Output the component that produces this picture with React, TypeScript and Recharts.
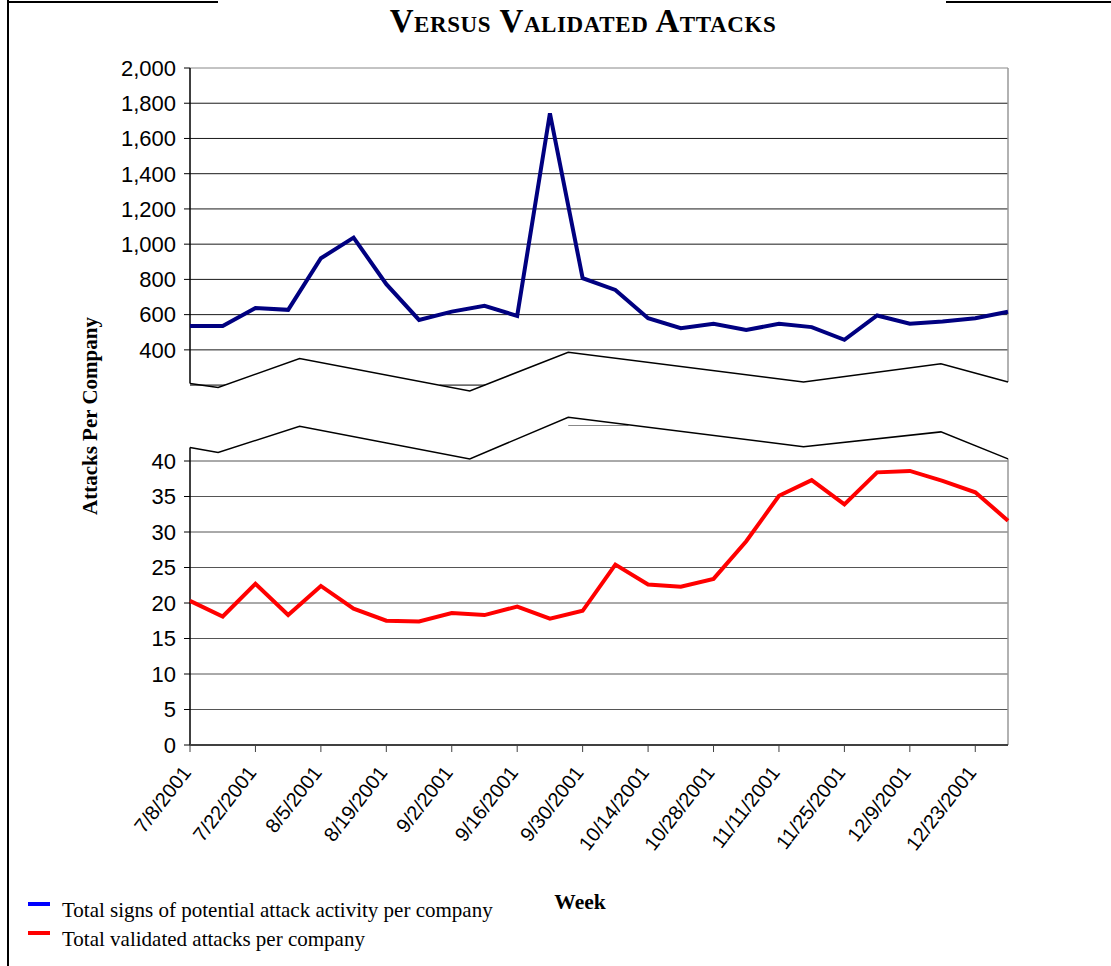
import React from 'react';
import { LineChart, Line, XAxis, YAxis, ReferenceLine } from 'recharts';

const categories = [
  '7/8/2001', '7/15/2001', '7/22/2001', '7/29/2001', '8/5/2001', '8/12/2001', '8/19/2001',
  '8/26/2001', '9/2/2001', '9/9/2001', '9/16/2001', '9/23/2001', '9/30/2001', '10/7/2001',
  '10/14/2001', '10/21/2001', '10/28/2001', '11/4/2001', '11/11/2001', '11/18/2001',
  '11/25/2001', '12/2/2001', '12/9/2001', '12/16/2001', '12/23/2001', '12/30/2001',
];
const signsPerCompany = [
  535, 535, 637, 627, 920, 1037, 773, 570, 617, 650, 593, 1743, 807, 740, 580, 523, 548, 513,
  548, 529, 457, 595, 548, 561, 580, 616,
];
const validatedPerCompany = [
  20.3, 18.1, 22.7, 18.3, 22.4, 19.2, 17.5, 17.4, 18.6, 18.3, 19.5, 17.8, 18.9, 25.4, 22.6,
  22.3, 23.4, 28.7, 35.1, 37.3, 33.9, 38.4, 38.6, 37.2, 35.6, 31.6,
];
const upperTicks = [400, 600, 800, 1000, 1200, 1400, 1600, 1800, 2000];
const lowerTicks = [0, 5, 10, 15, 20, 25, 30, 35, 40];
const xTicks = [0, 2, 4, 6, 8, 10, 12, 14, 16, 18, 20, 22, 24];
// axis-break zigzag (decoration), in week index / axis units
const breakX = [0, 0.86, 3.35, 8.55, 11.56, 18.75, 22.95, 25];
const breakUpper = [209, 186, 351, 167, 386, 218, 321, 218];
const breakLower = [41.9, 41.2, 44.9, 40.3, 46.15, 42.0, 44.1, 40.3];

const upperData = categories.map((c, i) => ({ x: i, label: c, signs: signsPerCompany[i] }));
const lowerData = categories.map((c, i) => ({ x: i, label: c, validated: validatedPerCompany[i] }));
const upperBreakData = breakX.map((x, i) => ({ x, y: breakUpper[i] }));
const lowerBreakData = breakX.map((x, i) => ({ x, y: breakLower[i] }));

const SANS = '"Liberation Sans", Arial, sans-serif';
const SERIF = '"Liberation Serif", "Times New Roman", serif';

const XTick = (props: any) => {
  const { x, y, payload } = props;
  return (
    <text
      x={0}
      y={0}
      transform={`translate(${x + 2},${y + 19}) rotate(-52)`}
      textAnchor="end"
      fontSize={20}
      fontFamily={SANS}
      fill="#000"
    >
      {categories[payload.value]}
    </text>
  );
};

const yTickStyle = { fontSize: 22, fontFamily: SANS, fill: '#000' };

export default function App() {
  return (
    <div style={{ position: 'absolute', left: 0, top: 0, width: 1111, height: 966, background: '#fff' }}>
      <div style={{ position: 'absolute', left: 0, top: 0 }}>
        <LineChart width={1111} height={400} data={upperData} margin={{ top: 68, right: 103, bottom: 6.1, left: 110 }}>
          <XAxis type="number" dataKey="x" domain={[0, 25]} hide />
          <YAxis
            type="number"
            domain={[150, 2000]}
            ticks={upperTicks}
            interval={0}
            width={80}
            axisLine={false}
            tickLine={{ stroke: '#000' }}
            tickSize={6}
            tickMargin={8}
            tick={yTickStyle}
            tickFormatter={(v: number) => v.toLocaleString('en-US')}
          />
          {upperTicks.map((v) => (
            <ReferenceLine key={v} y={v} stroke={v === 2000 ? '#888' : '#1a1a1a'} strokeWidth={1} />
          ))}
          <ReferenceLine segment={[{ x: 0, y: breakUpper[0] }, { x: 0, y: 2000 }]} stroke="#000" strokeWidth={1.5} />
          <ReferenceLine segment={[{ x: 25, y: breakUpper[7] }, { x: 25, y: 2000 }]} stroke="#999" strokeWidth={1.5} />
          <ReferenceLine segment={[{ x: 0, y: 200 }, { x: 1.07, y: 200 }]} stroke="#000" strokeWidth={1} />
          <ReferenceLine segment={[{ x: 7.63, y: 200 }, { x: 9.02, y: 200 }]} stroke="#000" strokeWidth={1} />
          <Line data={upperBreakData} dataKey="y" stroke="#000" strokeWidth={1.5} dot={false} isAnimationActive={false} />
          <Line dataKey="signs" stroke="#000080" strokeWidth={4} dot={false} isAnimationActive={false} />
        </LineChart>
      </div>
      <div style={{ position: 'absolute', left: 0, top: 380 }}>
        <LineChart width={1111} height={586} data={lowerData} margin={{ top: 10, right: 103, bottom: 101, left: 110 }}>
          <XAxis
            type="number"
            dataKey="x"
            domain={[0, 25]}
            ticks={xTicks}
            interval={0}
            height={120}
            axisLine={{ stroke: '#404040', strokeWidth: 2 }}
            tickLine={{ stroke: '#404040' }}
            tickSize={7}
            tick={<XTick />}
          />
          <YAxis
            type="number"
            domain={[0, 50]}
            ticks={lowerTicks}
            interval={0}
            width={80}
            axisLine={false}
            tickLine={{ stroke: '#000' }}
            tickSize={6}
            tickMargin={8}
            tick={yTickStyle}
          />
          {lowerTicks.filter((v) => v > 0).map((v) => (
            <ReferenceLine key={v} y={v} stroke="#555" strokeWidth={1} />
          ))}
          <ReferenceLine segment={[{ x: 0, y: 0 }, { x: 0, y: breakLower[0] }]} stroke="#000" strokeWidth={1.5} />
          <ReferenceLine segment={[{ x: 25, y: 0 }, { x: 25, y: breakLower[7] }]} stroke="#999" strokeWidth={1.5} />
          <ReferenceLine segment={[{ x: 11.56, y: 45 }, { x: 13.4, y: 45 }]} stroke="#888" strokeWidth={1} />
          <Line data={lowerBreakData} dataKey="y" stroke="#000" strokeWidth={1.5} dot={false} isAnimationActive={false} />
          <Line dataKey="validated" stroke="#ff0000" strokeWidth={4} dot={false} isAnimationActive={false} />
        </LineChart>
      </div>
      <svg width={1111} height={966} style={{ position: 'absolute', left: 0, top: 0, pointerEvents: 'none' }}>
        <line x1={8} y1={0} x2={8} y2={966} stroke="#000" strokeWidth={2} />
        <line x1={8} y1={2} x2={218} y2={2} stroke="#000" strokeWidth={2} />
        <line x1={946} y1={2} x2={1111} y2={2} stroke="#000" strokeWidth={2} />
        <text x={583} y={32} textAnchor="middle" fontFamily={SERIF} fontWeight="bold" fontSize={33} letterSpacing={0.6} style={{ fontVariant: 'small-caps' }}>
          Versus Validated Attacks
        </text>
        <text
          x={0}
          y={0}
          transform="translate(97,416) rotate(-90)"
          textAnchor="middle"
          fontFamily={SERIF}
          fontWeight="bold"
          fontSize={21}
        >
          Attacks Per Company
        </text>
        <text x={580} y={909} textAnchor="middle" fontFamily={SERIF} fontWeight="bold" fontSize={21.5}>
          Week
        </text>
        <line x1={28} y1={904} x2={50} y2={904} stroke="#0000ff" strokeWidth={4} />
        <text x={62} y={917} fontFamily={SERIF} fontSize={21}>Total signs of potential attack activity per company</text>
        <line x1={28} y1={933} x2={50} y2={933} stroke="#ff0000" strokeWidth={4} />
        <text x={62} y={946} fontFamily={SERIF} fontSize={21}>Total validated attacks per company</text>
      </svg>
    </div>
  );
}
